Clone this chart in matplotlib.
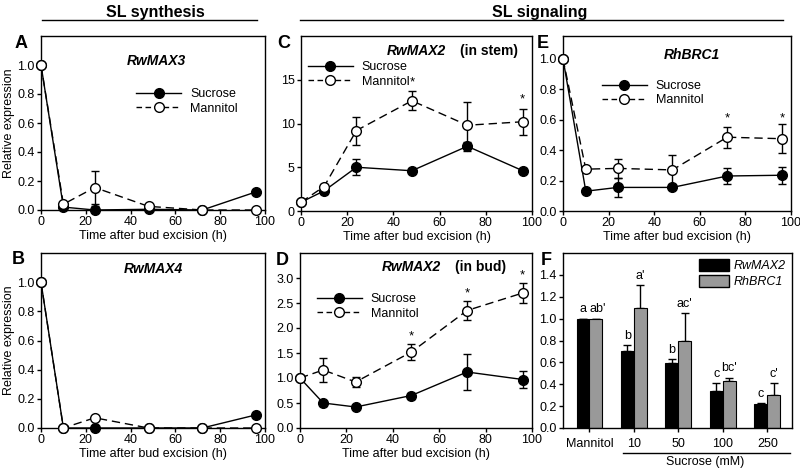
import numpy as np
import matplotlib
matplotlib.use("Agg")
import matplotlib.pyplot as plt
from matplotlib.lines import Line2D
from matplotlib.patches import Patch
from matplotlib.transforms import blended_transform_factory

plt.rcParams['font.family'] = ['Liberation Sans', 'DejaVu Sans']

# time course data (h)
hours = [0, 10, 24, 48, 72, 96]

# A - RwMAX3
suc_A = [1.0, 0.02, 0.0, 0.005, 0.0, 0.125]
suc_A_err = [0, 0, 0.03, 0, 0, 0]
man_A = [1.0, 0.04, 0.155, 0.025, 0.0, 0.0]
man_A_err = [0, 0, 0.115, 0, 0, 0]

# B - RwMAX4
suc_B = [1.0, 0.0, 0.0, 0.0, 0.0, 0.09]
suc_B_err = [0, 0, 0, 0, 0, 0]
man_B = [1.0, 0.0, 0.07, 0.0, 0.0, 0.0]
man_B_err = [0, 0, 0, 0, 0, 0]

# C - RwMAX2 (in stem)
suc_C = [1.0, 2.3, 5.0, 4.6, 7.4, 4.6]
suc_C_err = [0, 0.3, 0.9, 0.3, 0.5, 0.3]
man_C = [1.0, 2.8, 9.2, 12.6, 9.8, 10.2]
man_C_err = [0, 0.3, 1.6, 1.1, 2.7, 1.5]
stars_C = [(48, 14.7), (96, 12.8)]

# D - RwMAX2 (in bud)
suc_D = [1.0, 0.5, 0.42, 0.65, 1.12, 0.97]
suc_D_err = [0, 0.05, 0.03, 0.06, 0.36, 0.17]
man_D = [1.0, 1.16, 0.92, 1.52, 2.35, 2.7]
man_D_err = [0, 0.24, 0.1, 0.16, 0.19, 0.2]
stars_D = [(48, 1.83), (72, 2.69), (96, 3.05)]

# E - RhBRC1
suc_E = [1.0, 0.13, 0.155, 0.155, 0.23, 0.235]
suc_E_err = [0, 0.01, 0.06, 0.01, 0.055, 0.055]
man_E = [1.0, 0.275, 0.28, 0.27, 0.485, 0.475]
man_E_err = [0, 0.01, 0.06, 0.095, 0.07, 0.095]
stars_E = [(72, 0.61), (96, 0.61)]

# F - sucrose dose response
doses = ['Mannitol', '10', '50', '100', '250']
max2 = [1.0, 0.70, 0.59, 0.34, 0.215]
max2_err = [0, 0.06, 0.04, 0.07, 0.01]
brc1 = [1.0, 1.10, 0.80, 0.43, 0.305]
brc1_err = [0, 0.205, 0.25, 0.03, 0.105]
max2_letters = ['a', 'b', 'b', 'c', 'c']
brc1_letters = ["ab'", "a'", "ac'", "bc'", "c'"]

W, H = 800, 471
fig = plt.figure(figsize=(8, 4.71), dpi=100)


def rect(l, t, r, b):
    return [l / W, 1 - b / H, (r - l) / W, (b - t) / H]


TICK = 9
LAB = 9
TITLE = 10


def style(ax):
    ax.tick_params(direction='out', length=3, width=1, pad=1.5, labelsize=TICK)
    for s in ax.spines.values():
        s.set_linewidth(1)


def line_panel(ax, suc, suc_err, man, man_err, ylim, yticks, fmt):
    c1 = ax.errorbar(hours, suc, yerr=suc_err, fmt='-o', color='k', mfc='k', mec='k',
                     ms=7, lw=1, capsize=3, capthick=1, elinewidth=1, zorder=3)
    c2 = ax.errorbar(hours, man, yerr=man_err, fmt='o', ls=(0, (6, 3.5)), color='k',
                     mfc='white', mec='k', mew=1, ms=7, lw=1, capsize=3, capthick=1,
                     elinewidth=1, zorder=4)
    c1[0].set_clip_on(False)
    c2[0].set_clip_on(False)
    ax.set_xlim(0, 100)
    ax.set_xticks([0, 20, 40, 60, 80, 100])
    ax.set_ylim(*ylim)
    ax.set_yticks(yticks)
    ax.set_yticklabels([fmt.format(v) for v in yticks])
    ax.set_xlabel('Time after bud excision (h)', fontsize=LAB, labelpad=1)
    style(ax)


def add_legend(ax, x, y):
    h = [Line2D([], [], color='k', lw=1, marker='o', ms=7, mfc='k'),
         Line2D([], [], color='k', lw=1, ls=(0, (4, 2.5)), marker='o', ms=7, mfc='white')]
    ax.legend(h, ['Sucrose', 'Mannitol'], loc='upper left', bbox_to_anchor=(x, y),
              frameon=False, fontsize=LAB, handlelength=3.6, handletextpad=0.7,
              labelspacing=0.2, borderpad=0, borderaxespad=0)


def stars(ax, pts):
    for x, y in pts:
        ax.text(x, y, '*', ha='center', va='center', fontsize=9.5)


axA = fig.add_axes(rect(41, 36, 265, 210))
line_panel(axA, suc_A, suc_A_err, man_A, man_A_err, (0, 1.2), np.arange(0, 1.01, 0.2), '{:.1f}')
axA.set_ylabel('Relative expression', fontsize=LAB, labelpad=2)
add_legend(axA, 0.426, 0.70)
axA.text(0.516, 0.856, 'RwMAX3', transform=axA.transAxes, ha='center', va='center',
         fontsize=TITLE, fontweight='bold', style='italic')

axB = fig.add_axes(rect(41, 253, 265, 428))
line_panel(axB, suc_B, suc_B_err, man_B, man_B_err, (0, 1.2), np.arange(0, 1.01, 0.2), '{:.1f}')
axB.set_ylabel('Relative expression', fontsize=LAB, labelpad=2)
axB.text(0.5, 0.909, 'RwMAX4', transform=axB.transAxes, ha='center', va='center',
         fontsize=TITLE, fontweight='bold', style='italic')

axC = fig.add_axes(rect(301, 36, 532, 211))
line_panel(axC, suc_C, suc_C_err, man_C, man_C_err, (0, 20), [0, 5, 10, 15], '{:.0f}')
add_legend(axC, 0.03, 0.857)
stars(axC, stars_C)
axC.text(0.372, 0.914, 'RwMAX2', transform=axC.transAxes, ha='left', va='center',
         fontsize=TITLE, fontweight='bold', style='italic')
axC.text(0.688, 0.914, '(in stem)', transform=axC.transAxes, ha='left', va='center',
         fontsize=TITLE, fontweight='bold')

axD = fig.add_axes(rect(300, 253, 532, 428))
line_panel(axD, suc_D, suc_D_err, man_D, man_D_err, (0, 3.5), np.arange(0, 3.01, 0.5), '{:.1f}')
add_legend(axD, 0.073, 0.771)
stars(axD, stars_D)
axD.text(0.353, 0.92, 'RwMAX2', transform=axD.transAxes, ha='left', va='center',
         fontsize=TITLE, fontweight='bold', style='italic')
axD.text(0.668, 0.92, '(in bud)', transform=axD.transAxes, ha='left', va='center',
         fontsize=TITLE, fontweight='bold')

axE = fig.add_axes(rect(563, 36, 791, 211))
line_panel(axE, suc_E, suc_E_err, man_E, man_E_err, (0, 1.15), np.arange(0, 1.01, 0.2), '{:.1f}')
add_legend(axE, 0.171, 0.749)
stars(axE, stars_E)
axE.text(0.566, 0.891, 'RhBRC1', transform=axE.transAxes, ha='center', va='center',
         fontsize=TITLE, fontweight='bold', style='italic')

# F - bars
axF = fig.add_axes(rect(563, 253, 792, 428))
x = np.arange(len(doses))
w = 0.29
grey = '#999999'
axF.bar(x - w / 2, max2, w, color='k', edgecolor='k', lw=0.8, zorder=2)
axF.bar(x + w / 2, brc1, w, color=grey, edgecolor='k', lw=0.8, zorder=2)
axF.errorbar(x - w / 2, max2, yerr=[np.zeros(len(x)), max2_err], fmt='none', ecolor='k',
             elinewidth=1, capsize=3, capthick=1, zorder=1)
axF.errorbar(x + w / 2, brc1, yerr=[np.zeros(len(x)), brc1_err], fmt='none', ecolor='k',
             elinewidth=1, capsize=3, capthick=1, zorder=1)
for i in range(len(x)):
    axF.text(x[i] - w / 2, max2[i] + max2_err[i] + 0.03, max2_letters[i], ha='center',
             va='bottom', fontsize=LAB)
    axF.text(x[i] + w / 2 + (0.04 if i == 0 else 0), brc1[i] + brc1_err[i] + 0.03,
             brc1_letters[i], ha='center', va='bottom', fontsize=LAB)
axF.set_xlim(-0.594, 4.554)
axF.set_xticks(x)
axF.set_xticklabels(doses, fontsize=LAB)
axF.set_ylim(0, 1.6)
axF.set_yticks(np.arange(0, 1.41, 0.2))
axF.set_yticklabels(['{:.1f}'.format(v) for v in np.arange(0, 1.41, 0.2)])
style(axF)
axF.tick_params(axis='x', labelsize=LAB, pad=4)
fh = [Patch(facecolor='k', edgecolor='k'), Patch(facecolor=grey, edgecolor='k')]
leg = axF.legend(fh, ['RwMAX2', 'RhBRC1'], loc='upper left', bbox_to_anchor=(0.594, 0.966),
                 frameon=False, fontsize=LAB, handlelength=2.4, handleheight=1.1,
                 handletextpad=0.4, labelspacing=0.2, borderpad=0, borderaxespad=0)
for t in leg.get_texts():
    t.set_style('italic')
tr = blended_transform_factory(axF.transData, axF.transAxes)
axF.plot([0.76, 4.51], [-0.142, -0.142], color='k', lw=1, transform=tr, clip_on=False)
axF.text(2.6, -0.195, 'Sucrose (mM)', transform=tr, ha='center', va='center', fontsize=LAB)

# panel letters
for lbl, (px, py) in zip('ABCDEF', [(15, 35), (12, 251), (277, 35), (276, 252), (537, 35), (541, 252)]):
    fig.text(px / W, 1 - py / H, lbl, ha='left', va='top', fontsize=13, fontweight='bold')

# group headers
fig.text(155 / W, 1 - 12 / H, 'SL synthesis', ha='center', va='center', fontsize=11.5,
         fontweight='bold')
fig.add_artist(Line2D([42 / W, 257 / W], [1 - 20 / H] * 2, color='k', lw=1))
fig.text(540 / W, 1 - 12 / H, 'SL signaling', ha='center', va='center', fontsize=11.5,
         fontweight='bold')
fig.add_artist(Line2D([300 / W, 783 / W], [1 - 20 / H] * 2, color='k', lw=1))

fig.savefig('out.png', dpi=100)
